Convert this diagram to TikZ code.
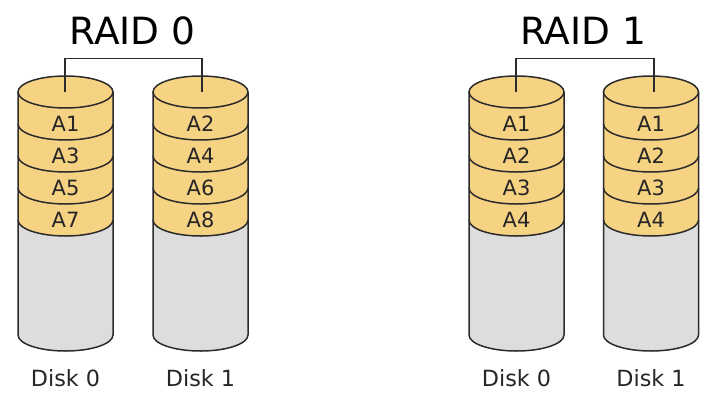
\documentclass[tikz,border=0pt]{standalone}
\usepackage{fontspec}
\setmainfont{DejaVu Sans}
\definecolor{diskorange}{HTML}{F6D283}
\definecolor{diskgray}{HTML}{DDDDDD}
\definecolor{lineclr}{HTML}{2B2B2B}
\tikzset{
  outline/.style={draw=lineclr, line width=1.5pt},
  link/.style={draw=lineclr, line width=1.3pt},
  blocklbl/.style={anchor=base, inner sep=0pt, font=\fontsize{21}{25}\selectfont, text=black!85},
  disklbl/.style={anchor=base, inner sep=0pt, font=\fontsize{22.3}{27}\selectfont, text=black!85},
  titlelbl/.style={anchor=base, inner sep=0pt, font=\fontsize{37.5}{44}\selectfont, text=black}
}
% #1 = centre x, #2 = name prefix, #3..#6 = labels, #7 = disk label
\newcommand\mydisk[7]{%
  \def\cx{#1}%
  \fill[diskgray] (\cx-47.5,-92) -- (\cx-47.5,-335) arc[start angle=180, end angle=360, x radius=47.5, y radius=16] -- (\cx+47.5,-92) -- cycle;
  \fill[diskorange] (\cx-47.5,-92) -- (\cx-47.5,-220) arc[start angle=180, end angle=360, x radius=47.5, y radius=16] -- (\cx+47.5,-92) -- cycle;
  \draw[outline] (\cx-47.5,-92) -- (\cx-47.5,-335) arc[start angle=180, end angle=360, x radius=47.5, y radius=16] -- (\cx+47.5,-92);
  \draw[outline] (\cx-47.5,-220) arc[start angle=180, end angle=360, x radius=47.5, y radius=16];
  \draw[outline] (\cx-47.5,-188) arc[start angle=180, end angle=360, x radius=47.5, y radius=16];
  \draw[outline] (\cx-47.5,-156) arc[start angle=180, end angle=360, x radius=47.5, y radius=16];
  \draw[outline] (\cx-47.5,-124) arc[start angle=180, end angle=360, x radius=47.5, y radius=16];
  \draw[outline, fill=diskorange] (\cx,-92) ellipse[x radius=47.5, y radius=16];
  \coordinate (#2top) at (\cx,-92);
  \node[blocklbl] (#2a) at (\cx,-131.5) {#3};
  \node[blocklbl] (#2b) at (\cx,-163.5) {#4};
  \node[blocklbl] (#2c) at (\cx,-195.5) {#5};
  \node[blocklbl] (#2d) at (\cx,-227.5) {#6};
  \node[disklbl] (#2name) at (\cx,-386.5) {#7};
}
\begin{document}
\begin{tikzpicture}[x=1pt,y=1pt]
\useasboundingbox[fill=white] (0,0) rectangle (717,-402);
\mydisk{65.5}{p}{A1}{A3}{A5}{A7}{Disk 0}
\mydisk{200.5}{q}{A2}{A4}{A6}{A8}{Disk 1}
\mydisk{516.5}{r}{A1}{A2}{A3}{A4}{Disk 0}
\mydisk{651}{s}{A1}{A2}{A3}{A4}{Disk 1}
\node[titlelbl] (raid0) at (132.5,-44.5) {RAID 0};
\node[titlelbl] (raid1) at (583,-44.5) {RAID 1};
\coordinate (pj) at (65,-58.5);
\coordinate (qj) at (202,-58.5);
\coordinate (rj) at (516,-58.5);
\coordinate (sj) at (654,-58.5);
\draw[link] (ptop -| pj) -- (pj) -- (qj) -- (qtop -| qj);
\draw[link] (rtop -| rj) -- (rj) -- (sj) -- (stop -| sj);
\end{tikzpicture}
\end{document}
